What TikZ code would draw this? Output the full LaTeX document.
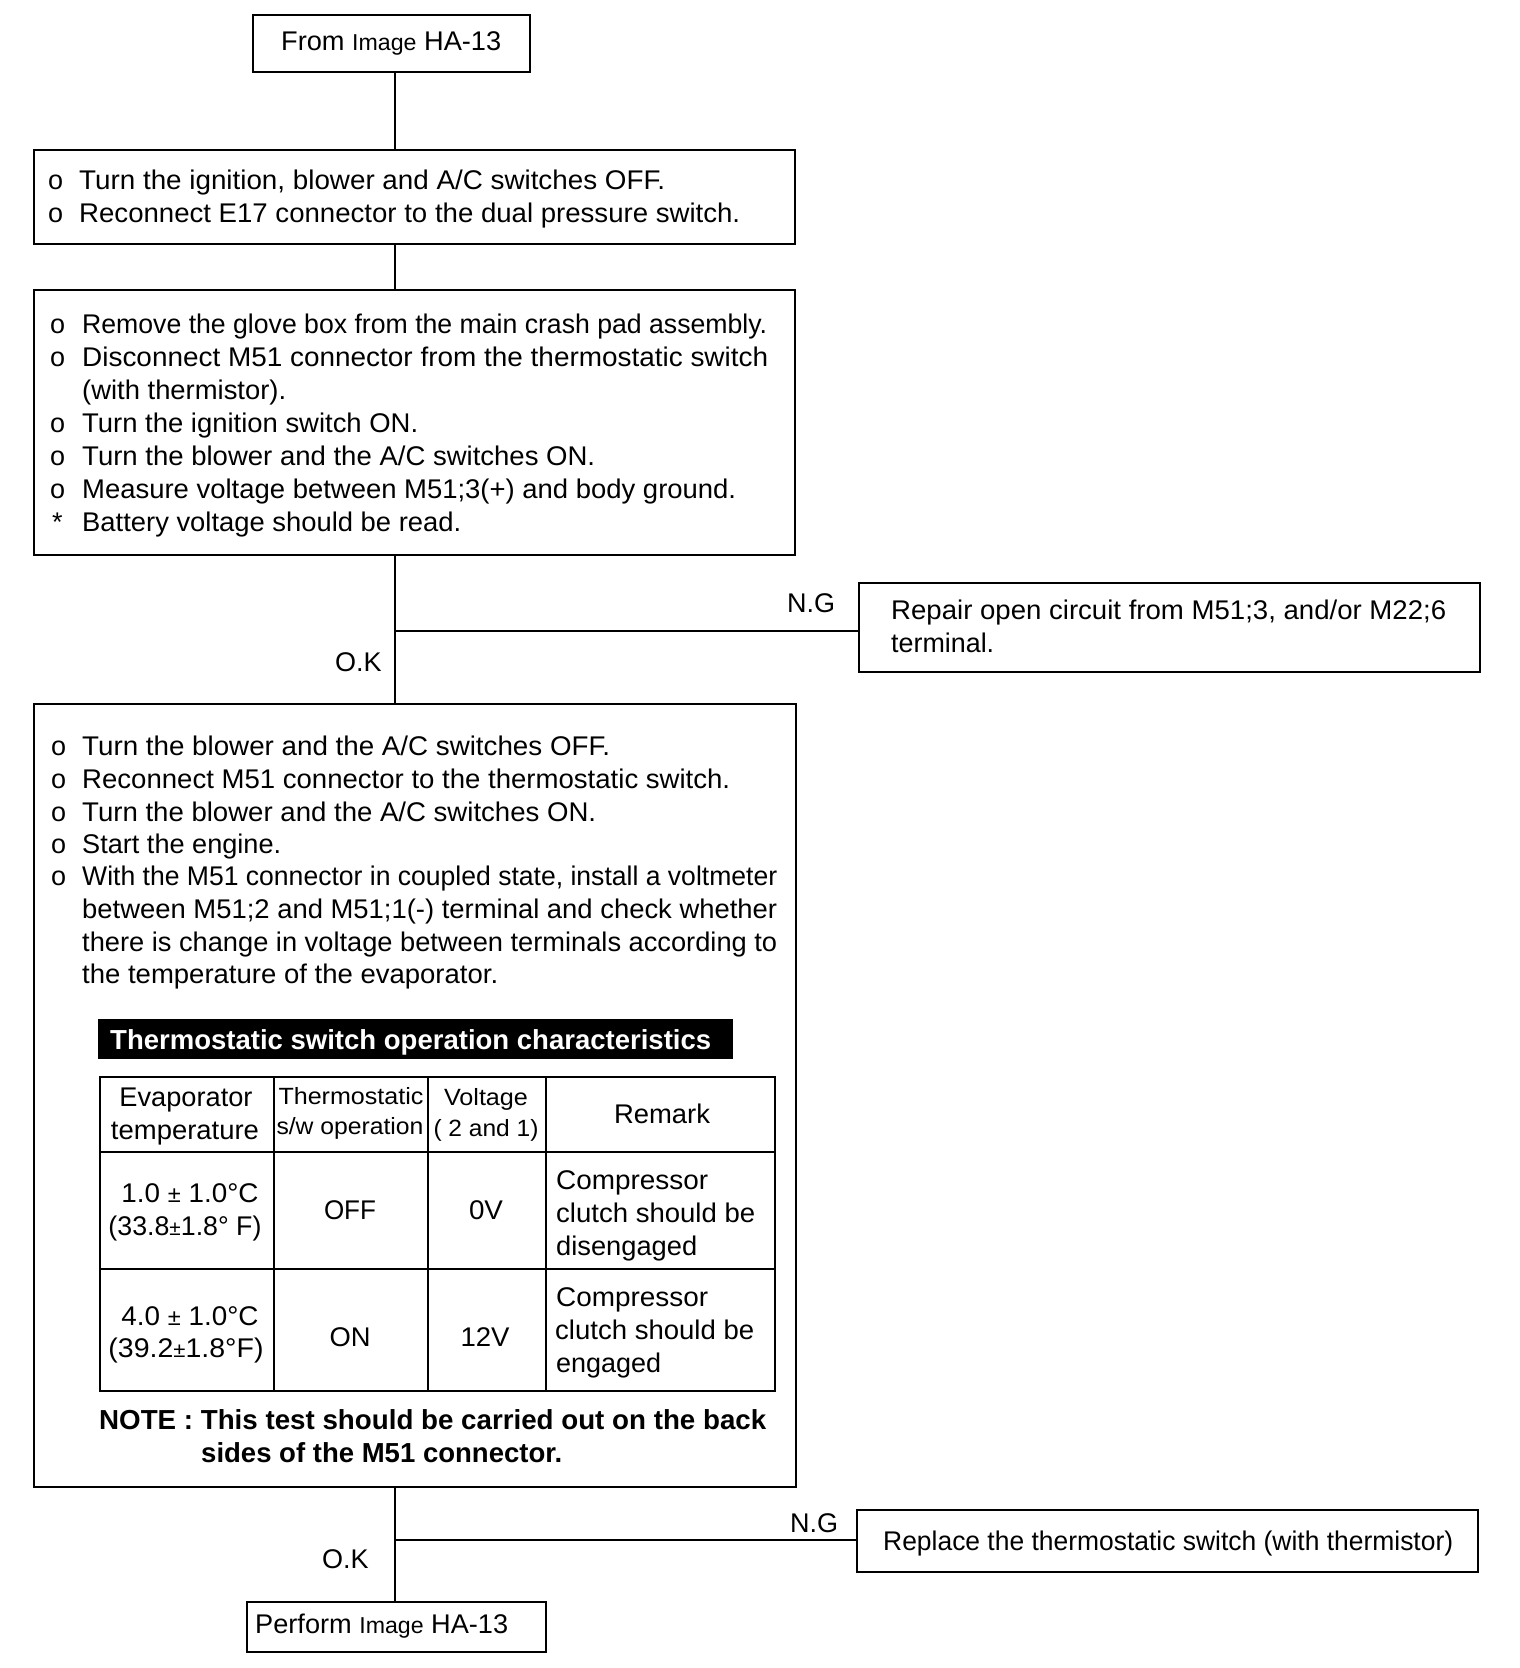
\documentclass[tikz,border=0pt]{standalone}
\usepackage{fontspec}
\usepackage{graphicx}
\setmainfont{Liberation Sans}
\newcommand\fw[2]{\resizebox{#1pt}{\height}{#2}}
\begin{document}
\begin{tikzpicture}[x=1pt,y=-1pt,
  box/.style={draw, line width=2pt, inner sep=0pt, anchor=north west},
  txt/.style={font=\fontsize{27}{33}\selectfont, inner sep=0pt, anchor=base west},
  ctxt/.style={font=\fontsize{27}{33}\selectfont, inner sep=0pt, anchor=base},
  stxt/.style={font=\fontsize{23.5}{28}\selectfont, inner sep=0pt, anchor=base},
  btxt/.style={font=\fontsize{27.5}{33}\bfseries\selectfont, inner sep=0pt, anchor=base west},
  conn/.style={line width=2pt},
  tline/.style={line width=2.4pt}]
\useasboundingbox (0,0) rectangle (1520,1668);
\coordinate (sx) at (395,0);

% top box
\node[box, minimum width=277pt, minimum height=57pt] (top) at (252,14) {};
\node[txt] (topt) at (281,50) {\fw{220}{From {\fontsize{23}{28}\selectfont Image} HA-13}};

% box 2
\node[box, minimum width=761pt, minimum height=94pt] (b2) at (33,149) {};
\node[txt] (b2o1) at (48,189) {o};
\node[txt] (b2l1) at (79,189) {\fw{586}{Turn the ignition, blower and A/C switches OFF.}};
\node[txt] (b2o2) at (48,222) {o};
\node[txt] (b2l2) at (79,222) {\fw{661}{Reconnect E17 connector to the dual pressure switch.}};

% box 3
\node[box, minimum width=761pt, minimum height=265pt] (b3) at (33,289) {};
\node[txt] (b3o1) at (50,333) {o};
\node[txt] (b3l1) at (82,333) {\fw{685}{Remove the glove box from the main crash pad assembly.}};
\node[txt] (b3o2) at (50,366) {o};
\node[txt] (b3l2) at (82,366) {\fw{686}{Disconnect M51 connector from the thermostatic switch}};
\node[txt] (b3l3) at (82,399) {\fw{204}{(with thermistor).}};
\node[txt] (b3o4) at (50,432) {o};
\node[txt] (b3l4) at (82,432) {\fw{336}{Turn the ignition switch ON.}};
\node[txt] (b3o5) at (50,465) {o};
\node[txt] (b3l5) at (82,465) {\fw{513}{Turn the blower and the A/C switches ON.}};
\node[txt] (b3o6) at (50,498) {o};
\node[txt] (b3l6) at (82,498) {\fw{654}{Measure voltage between M51;3(+) and body ground.}};
\node[txt] (b3o7) at (52,531) {*};
\node[txt] (b3l7) at (82,531) {\fw{379}{Battery voltage should be read.}};

% repair box
\node[box, minimum width=621pt, minimum height=89pt] (rep) at (858,582) {};
\node[txt] (repl1) at (891,619) {\fw{555}{Repair open circuit from M51;3, and/or M22;6}};
\node[txt] (repl2) at (891,652) {\fw{103}{terminal.}};

% box 4
\node[box, minimum width=762pt, minimum height=783pt] (b4) at (33,703) {};
\node[txt] (b4o1) at (51,755) {o};
\node[txt] (b4l1) at (82,755) {\fw{528}{Turn the blower and the A/C switches OFF.}};
\node[txt] (b4o2) at (51,788) {o};
\node[txt] (b4l2) at (82,788) {\fw{648}{Reconnect M51 connector to the thermostatic switch.}};
\node[txt] (b4o3) at (51,821) {o};
\node[txt] (b4l3) at (82,821) {\fw{514}{Turn the blower and the A/C switches ON.}};
\node[txt] (b4o4) at (51,853) {o};
\node[txt] (b4l4) at (82,853) {\fw{199}{Start the engine.}};
\node[txt] (b4o5) at (51,885) {o};
\node[txt] (b4l5) at (82,885) {\fw{695}{With the M51 connector in coupled state, install a voltmeter}};
\node[txt] (b4l6) at (82,918) {\fw{695}{between M51;2 and M51;1(-) terminal and check whether}};
\node[txt] (b4l7) at (82,951) {\fw{695}{there is change in voltage between terminals according to}};
\node[txt] (b4l8) at (82,983) {\fw{416}{the temperature of the evaporator.}};

% banner
\node[fill=black, inner sep=0pt, anchor=north west, minimum width=635pt, minimum height=40pt] (ban) at (98,1019) {};
\node[font=\fontsize{27.5}{30}\bfseries\selectfont, text=white, inner sep=0pt, anchor=base west] (bant) at (110,1049) {\fw{601}{Thermostatic switch operation characteristics}};

% table
\node[draw, line width=2.4pt, inner sep=0pt, anchor=north west, minimum width=675pt, minimum height=314pt] (tab) at (99,1076) {};
\coordinate (c1) at (274,0);
\coordinate (c2) at (428,0);
\coordinate (c3) at (546,0);
\coordinate (r1) at (0,1152);
\coordinate (r2) at (0,1269);
\draw[tline] (tab.north -| c1) -- (tab.south -| c1);
\draw[tline] (tab.north -| c2) -- (tab.south -| c2);
\draw[tline] (tab.north -| c3) -- (tab.south -| c3);
\draw[tline] (tab.west |- r1) -- (tab.east |- r1);
\draw[tline] (tab.west |- r2) -- (tab.east |- r2);

\node[ctxt] (h1a) at (186,1106) {\fw{133}{Evaporator}};
\node[ctxt] (h1b) at (185,1139) {\fw{148}{temperature}};
\node[stxt] (h2a) at (351,1104) {\fw{145}{Thermostatic}};
\node[stxt] (h2b) at (350,1134) {\fw{147}{s/w operation}};
\node[stxt] (h3a) at (486,1105) {\fw{84}{Voltage}};
\node[stxt] (h3b) at (486,1136) {\fw{105}{( 2 and 1)}};
\node[ctxt] (h4) at (662,1123) {\fw{96}{Remark}};

\node[ctxt] (r1a) at (190,1202) {\fw{137}{1.0 {\fontsize{23}{28}\selectfont ±} 1.0°C}};
\node[ctxt] (r1b) at (185,1235) {\fw{153}{(33.8{\fontsize{21}{28}\selectfont ±}1.8° F)}};
\node[ctxt] (r1c) at (350,1219) {\fw{52}{OFF}};
\node[ctxt] (r1d) at (486,1219) {\fw{34}{0V}};
\node[txt] (r1e) at (556,1189) {\fw{152}{Compressor}};
\node[txt] (r1f) at (556,1222) {\fw{199}{clutch should be}};
\node[txt] (r1g) at (556,1255) {\fw{141}{disengaged}};

\node[ctxt] (r2a) at (190,1325) {\fw{137}{4.0 {\fontsize{23}{28}\selectfont ±} 1.0°C}};
\node[ctxt] (r2b) at (186,1357) {\fw{155}{(39.2{\fontsize{21}{28}\selectfont ±}1.8°F)}};
\node[ctxt] (r2c) at (350,1346) {\fw{41}{ON}};
\node[ctxt] (r2d) at (485,1346) {\fw{49}{12V}};
\node[txt] (r2e) at (556,1306) {\fw{152}{Compressor}};
\node[txt] (r2f) at (555,1339) {\fw{199}{clutch should be}};
\node[txt] (r2g) at (556,1372) {\fw{105}{engaged}};

\node[btxt] (n1) at (99,1429) {\fw{667}{NOTE : This test should be carried out on the back}};
\node[btxt] (n2) at (201,1462) {\fw{361}{sides of the M51 connector.}};

% replace box
\node[box, minimum width=621pt, minimum height=62pt] (repl) at (856,1509) {};
\node[txt] (replt) at (883,1550) {\fw{570}{Replace the thermostatic switch (with thermistor)}};

% perform box
\node[box, minimum width=299pt, minimum height=50pt] (perf) at (246,1601) {};
\node[txt] (perft) at (255,1633) {\fw{253}{Perform {\fontsize{23}{28}\selectfont Image} HA-13}};

% labels
\node[txt] (ng1) at (787,612) {N.G};
\node[txt] (ok1) at (335,671) {O.K};
\node[txt] (ng2) at (790,1532) {N.G};
\node[txt] (ok2) at (322,1568) {O.K};

% connectors
\coordinate (j1) at (395,631);
\coordinate (j2) at (395,1540);
\draw[conn] (top.south -| sx) -- (b2.north -| sx);
\draw[conn] (b2.south -| sx) -- (b3.north -| sx);
\draw[conn] (b3.south -| sx) -- (b4.north -| sx);
\draw[conn] (j1) -- (rep.west |- j1);
\draw[conn] (b4.south -| sx) -- (perf.north -| sx);
\draw[conn] (j2) -- (repl.west |- j2);
\end{tikzpicture}
\end{document}
